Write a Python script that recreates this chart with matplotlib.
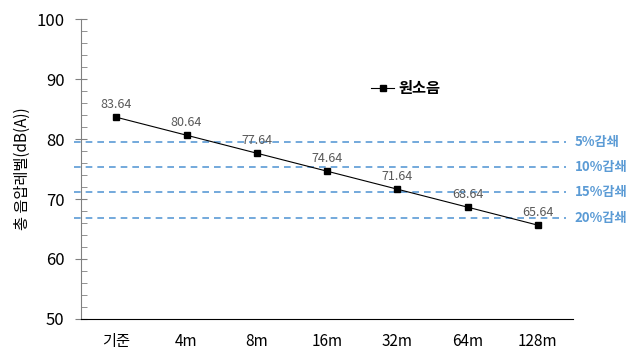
import matplotlib
matplotlib.use("Agg")
from matplotlib import pyplot as plt
from matplotlib.ticker import MultipleLocator

plt.rcParams['font.family'] = ['Noto Sans CJK KR', 'DejaVu Sans']

categories = ["기준", "4m", "8m", "16m", "32m", "64m", "128m"]
values = [83.64, 80.64, 77.64, 74.64, 71.64, 68.64, 65.64]
base = 83.64
reductions = [5, 10, 15, 20]
reduction_labels = ["5%감쇄", "10%감쇄", "15%감쇄", "20%감쇄"]

fig = plt.figure(figsize=(6.29, 3.54), dpi=100)
ax = fig.add_axes([0.129, 0.099, 0.782, 0.847])

x = list(range(len(categories)))
ax.plot(x, values, color="#000000", lw=0.8, marker="s", ms=4.5, label="원소음", zorder=3)
for xi, v in zip(x, values):
    ax.text(xi, v + 1.1, f"{v:.2f}", ha="center", va="bottom", fontsize=9, color="#595959")

blue = "#5B9BD5"
for r, lab in zip(reductions, reduction_labels):
    y = base * (1 - r / 100)
    ax.axhline(y, xmin=-0.015, xmax=0.985, color=blue, lw=1.2, ls=(0, (4, 3)), clip_on=False, zorder=1)
    ax.text(1.003, y, lab, transform=ax.get_yaxis_transform(), ha="left", va="center",
            fontsize=9.5, fontweight="bold", color=blue)

ax.set_xlim(-0.5, 6.5)
ax.set_ylim(50, 100)
ax.set_xticks(x)
ax.set_xticklabels(categories, fontsize=11)
ax.tick_params(axis="x", length=0, pad=10)
ax.yaxis.set_major_locator(MultipleLocator(10))
ax.yaxis.set_minor_locator(MultipleLocator(2))
ax.tick_params(axis="y", which="major", direction="inout", length=8, labelsize=12, pad=8, color="#808080")
ax.tick_params(axis="y", which="minor", direction="in", length=4, color="#808080")
ax.set_ylabel("총 음압레벨(dB(A))", fontsize=11, labelpad=4)

ax.spines["top"].set_visible(False)
ax.spines["right"].set_visible(False)
ax.spines["left"].set_color("#808080")
ax.spines["bottom"].set_color("#000000")

ax.legend(loc="center left", bbox_to_anchor=(0.59, 0.77), frameon=False,
          prop={"weight": "bold", "size": 11}, handlelength=1.5, handletextpad=0.3,
          borderpad=0, borderaxespad=0)

plt.savefig("out.png", dpi=100)
